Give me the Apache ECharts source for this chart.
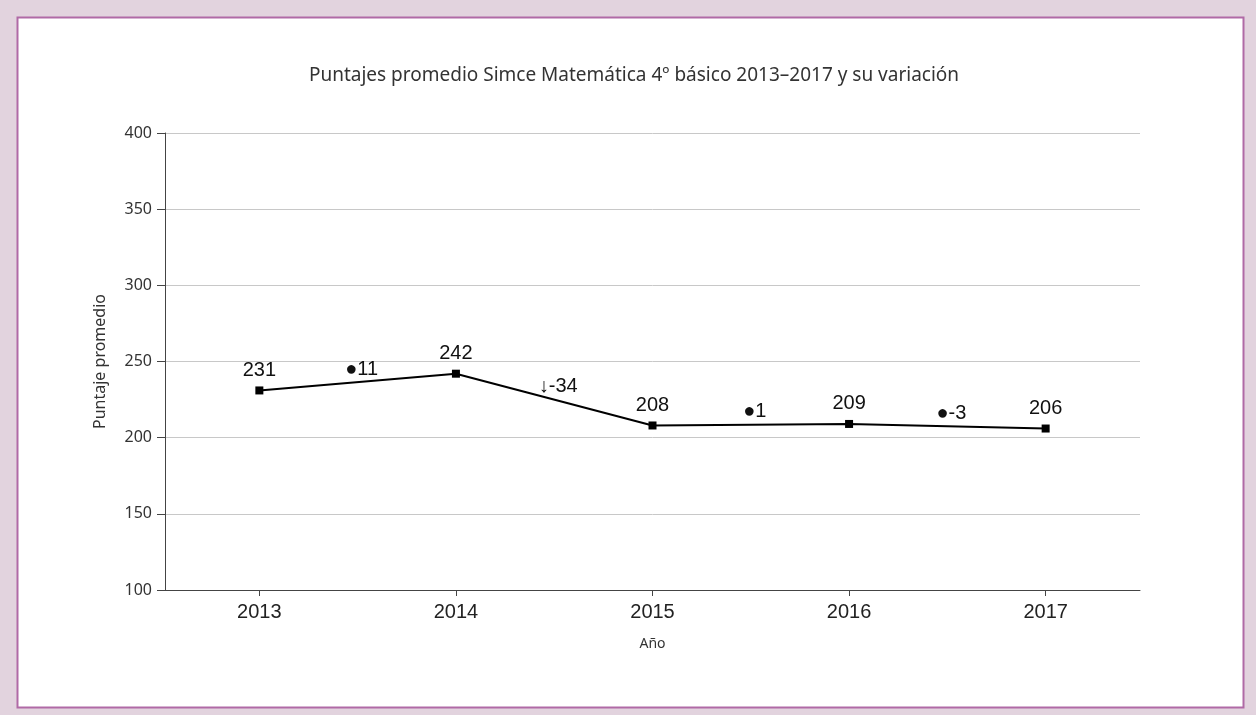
<!DOCTYPE html>
<html>
<head>
<meta charset="utf-8">
<script src="https://cdn.jsdelivr.net/npm/echarts@6/dist/echarts.min.js"></script>
<style>
html,body{margin:0;padding:0;background:#e2d3de;}
#chart{width:1256px;height:715px;}
</style>
</head>
<body>
<div id="chart"></div>
<script>
const years = [2013, 2014, 2015, 2016, 2017];
const scores = [231, 242, 208, 209, 206];
const variations = ['●11', '↓-34', '●1', '●-3'];
const yTicks = [100, 150, 200, 250, 300, 350, 400];

const lineData = years.map((y, i) => [y, scores[i]]);
const varData = variations.map((t, i) => ({
  value: [(years[i] + years[i + 1]) / 2, (scores[i] + scores[i + 1]) / 2],
  text: t
}));

const chart = echarts.init(document.getElementById('chart'));
chart.setOption({
  backgroundColor: '#e2d3de',
  animation: false,
  graphic: [{
    type: 'rect',
    z: -10,
    shape: { x: 17.5, y: 17.5, width: 1226, height: 690 },
    style: { fill: '#ffffff', stroke: '#b06aa6', lineWidth: 2 }
  }],
  title: {
    text: 'Puntajes promedio Simce Matemática 4º básico 2013–2017 y su variación',
    left: 629, top: 61, textAlign: 'center',
    textStyle: { fontFamily: 'Noto Sans', fontWeight: 'normal', fontSize: 19, color: '#333' }
  },
  grid: { left: 165, right: 116, top: 133, bottom: 125, containLabel: false },
  xAxis: {
    type: 'value',
    min: 2012.52, max: 2017.48,
    name: 'Año', nameLocation: 'middle', nameGap: 47,
    nameTextStyle: { fontFamily: 'Noto Sans', fontSize: 14, color: '#333' },
    axisLine: { show: true, lineStyle: { color: '#444', width: 1 } },
    axisTick: { show: true, customValues: years, length: 6, inside: false, lineStyle: { color: '#444' } },
    axisLabel: { customValues: years, formatter: v => String(v), fontFamily: 'Liberation Sans', fontSize: 20, color: '#222', margin: 12 },
    splitLine: { show: false }
  },
  yAxis: {
    type: 'value',
    min: 100, max: 400, interval: 50,
    name: 'Puntaje promedio', nameLocation: 'middle', nameGap: 57,
    nameTextStyle: { fontFamily: 'Noto Sans', fontSize: 16, color: '#333' },
    axisLine: { show: true, lineStyle: { color: '#444', width: 1 } },
    axisTick: { show: true, length: 8, lineStyle: { color: '#444' } },
    axisLabel: { fontFamily: 'Noto Sans', fontSize: 16, color: '#333', margin: 13 },
    splitLine: { show: true, lineStyle: { color: '#c8c8c8', width: 1 } }
  },
  series: [{
    type: 'line',
    data: lineData,
    symbol: 'rect', symbolSize: 8,
    itemStyle: { color: '#000' },
    lineStyle: { color: '#000', width: 2 },
    label: { show: true, position: 'top', distance: 6, formatter: p => String(p.value[1]),
      fontFamily: 'Liberation Sans', fontSize: 20, color: '#111' }
  }, {
    type: 'scatter',
    data: varData,
    symbolSize: 0,
    itemStyle: { opacity: 1, color: '#000' },
    label: { show: true, position: 'inside', offset: [4, -13], formatter: p => p.data.text,
      fontFamily: 'Liberation Sans', fontSize: 20, color: '#111', opacity: 1 },
    silent: true
  }]
});
</script>
</body>
</html>
